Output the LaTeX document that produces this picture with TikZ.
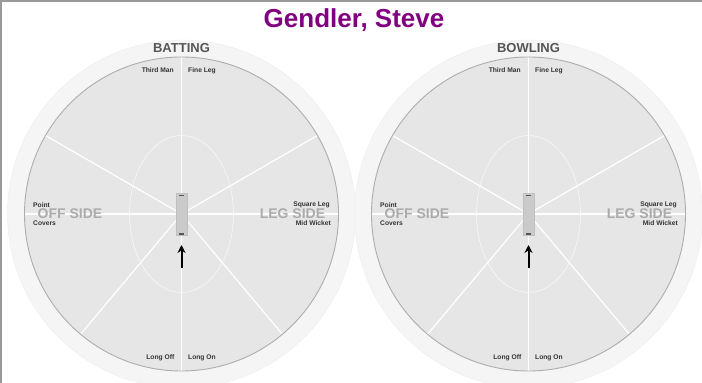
\documentclass[tikz,border=0pt]{standalone}
\usepackage{fontspec}
\setmainfont{Liberation Sans}
\usetikzlibrary{arrows.meta}
\definecolor{fieldRing}{HTML}{F5F5F5}
\definecolor{fieldGrass}{HTML}{E6E6E6}
\definecolor{fieldEdge}{HTML}{ADADAD}
\definecolor{pitchGrey}{HTML}{CACACA}
\definecolor{sideGrey}{HTML}{ABABAB}
\definecolor{headGrey}{HTML}{555555}
\definecolor{titlePurple}{HTML}{800080}
\definecolor{frameGrey}{HTML}{9A9A9A}

\begin{document}
\begin{tikzpicture}[
  x=1pt, y=1pt,
  fielder/.style={font=\bfseries\fontsize{6.7}{7}\selectfont, text=black!80, inner sep=0pt},
  side/.style={font=\bfseries\fontsize{14}{16}\selectfont, text=sideGrey, inner sep=0pt},
  head/.style={font=\bfseries\fontsize{13}{15}\selectfont, text=headGrey, inner sep=0pt},
  spoke/.style={draw=white, line width=1.2pt},
  pitch/.style={draw=black!25, fill=pitchGrey, line width=0.6pt, minimum width=11pt, minimum height=42pt, inner sep=0pt},
  stumps/.style={draw=headGrey, line width=1.2pt},
  batarrow/.style={-{Stealth[length=8pt, width=8pt]}, line width=2pt},
]
\useasboundingbox (0,0) rectangle (702,383);
\fill[white] (0,0) rectangle (702,383);

\node[font=\bfseries\fontsize{26}{30}\selectfont, text=titlePurple, inner sep=0pt] (title) at (354,363) {Gendler, Steve};

\foreach \cx/\ttl/\nm in {181.5/BATTING/bat, 528.5/BOWLING/bowl} {
  \coordinate (\nm) at (\cx,169);
  % boundary and field
  \fill[fieldRing, draw=black!7, line width=0.4pt] (\nm) circle (174);
  \fill[fieldGrass] (\nm) circle (157);
  \foreach \a in {90,270,0,180,150,30,-130,-50}
    \draw[spoke] (\nm) -- ++(\a:157);
  \draw[white!70!fieldGrass, line width=0.6pt] (\nm) ellipse (52 and 78.5);
  \draw[fieldEdge, line width=0.9pt] (\nm) circle (157);
  \node[head] (\nm-head) at ([yshift=165.5]\nm) {\ttl};
  % fielding positions
  \node[fielder, anchor=east] (\nm-third) at ([shift={(-7.5,143.5)}]\nm) {Third Man};
  \node[fielder, anchor=west] (\nm-fine) at ([shift={(6.5,143.5)}]\nm) {Fine Leg};
  \node[fielder, anchor=west] (\nm-point) at ([shift={(-148.5,9)}]\nm) {Point};
  \node[fielder, anchor=west] (\nm-covers) at ([shift={(-148.5,-9.5)}]\nm) {Covers};
  \node[fielder, anchor=east] (\nm-square) at ([shift={(148.5,9)}]\nm) {Square Leg};
  \node[fielder, anchor=east] (\nm-mid) at ([shift={(149.5,-9.5)}]\nm) {Mid Wicket};
  \node[fielder, anchor=east] (\nm-longoff) at ([shift={(-7,-143.5)}]\nm) {Long Off};
  \node[fielder, anchor=west] (\nm-longon) at ([shift={(6.5,-143.5)}]\nm) {Long On};
  \node[side] (\nm-off) at ([xshift=-111.5]\nm) {OFF SIDE};
  \node[side] (\nm-leg) at ([xshift=111]\nm) {LEG SIDE};
  % pitch
  \node[pitch] (\nm-pitch) at (\nm) {};
  \draw[stumps] ([shift={(-2.7,18.3)}]\nm) -- ++(5.4,0);
  \draw[stumps] ([shift={(-2.7,-20)}]\nm) -- ++(5.4,0);
  \coordinate (\nm-tail) at ([yshift=-54]\nm);
  \draw[batarrow] (\nm-tail) -- ([yshift=-31]\nm);
}

\draw[frameGrey, line width=2pt] (0,382) -- (702,382);
\draw[frameGrey, line width=2pt] (1,0) -- (1,383);
\end{tikzpicture}
\end{document}
